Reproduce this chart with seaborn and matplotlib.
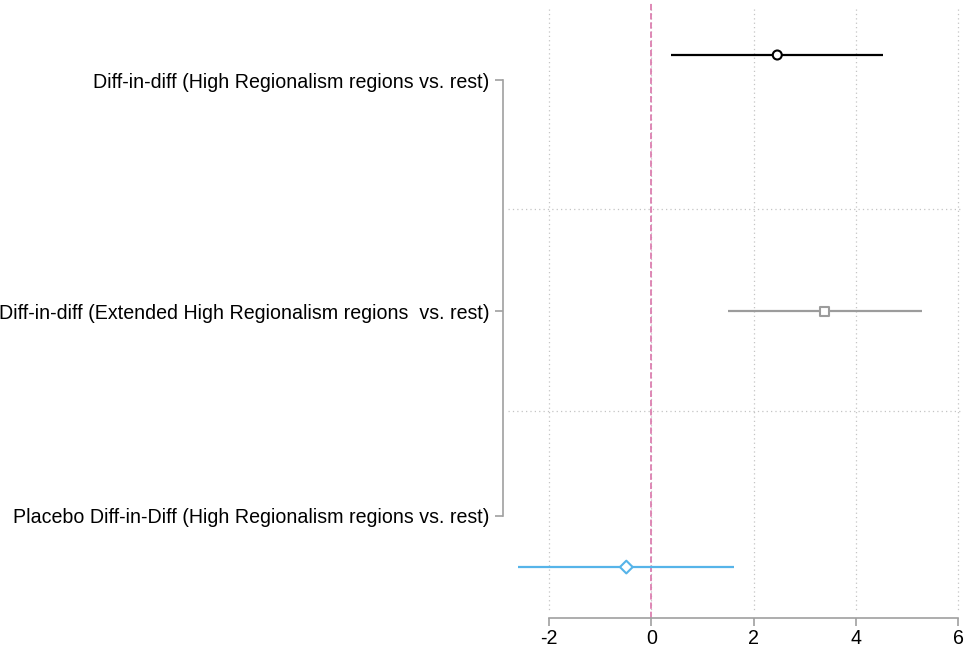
import numpy as np
import pandas as pd
import matplotlib
matplotlib.use("Agg")
import matplotlib.pyplot as plt
from matplotlib.collections import PathCollection
import seaborn as sns

# Coefficient estimates and 95% CIs
labels = [
    "Diff-in-diff (High Regionalism regions vs. rest)",
    "Diff-in-diff (Extended High Regionalism regions  vs. rest)",
    "Placebo Diff-in-Diff (High Regionalism regions vs. rest)",
]
coef = [2.46, 3.38, -0.49]
ci_low = [0.39, 1.49, -2.60]
ci_high = [4.52, 5.28, 1.62]
point_pos = [1.0, 2.0, 3.0]
label_pos = [1.098, 2.0, 2.80]
separators = [1.60, 2.39]
xticks = [-2, 0, 2, 4, 6]

colors = ["#000000", "#9c9c9c", "#56b4e9"]
markers = ["o", "s", "D"]

df = pd.DataFrame({"model": labels, "coef": coef, "lo": ci_low, "hi": ci_high, "y": point_pos})

sns.set_theme(style="ticks")
plt.rcParams["font.family"] = ["Liberation Sans", "DejaVu Sans"]

fig = plt.figure(figsize=(9.65, 6.48), dpi=100)
ax = fig.add_axes([503 / 965, 30 / 648, 459 / 965, 616 / 648])

ax.set_xlim(-2.9, 6.07)
ax.set_ylim(3.199, 0.793)

# grid
ax.vlines(xticks, 0.82, 3.17, colors="#c4c4c4", linestyles=(0, (1, 2.5)), lw=0.9, zorder=0)
ax.hlines(separators, -2.8, 6.07, colors="#c4c4c4", linestyles=(0, (1, 2.5)), lw=0.9, zorder=0)
ax.axvline(0, color="#dc7fb0", ls=(0, (3.5, 1.6)), lw=1.3, zorder=1)

# CIs
for i, r in df.iterrows():
    ax.hlines(r["y"], r["lo"], r["hi"], color=colors[i], lw=1.6, zorder=2)

sns.scatterplot(data=df, x="coef", y="y", hue="model", style="model",
                palette=colors, markers=markers, s=42,
                linewidth=1.5, legend=False, ax=ax, zorder=3)
# hollow markers
for coll in ax.collections:
    if isinstance(coll, PathCollection):
        fc = coll.get_facecolors()
        coll.set_edgecolors(fc)
        coll.set_facecolors("white")

ax.set_yticks(label_pos)
ax.set_yticklabels(labels)
ax.set_xticks(xticks)
ax.set_xticklabels([str(t) for t in xticks])
ax.set_xlabel("")
ax.set_ylabel("")

for s in ["top", "right"]:
    ax.spines[s].set_visible(False)
for s in ["left", "bottom"]:
    ax.spines[s].set_color("#a0a0a0")
    ax.spines[s].set_linewidth(1.2)
ax.spines["left"].set_bounds(label_pos[0], label_pos[-1])
ax.spines["bottom"].set_bounds(-2, 6)

ax.tick_params(axis="both", colors="#a0a0a0", width=1.2, length=6, labelcolor="black", labelsize=14.1)
ax.tick_params(axis="y", pad=4)
ax.tick_params(axis="x", pad=2)

fig.savefig("out.png", dpi=100)
